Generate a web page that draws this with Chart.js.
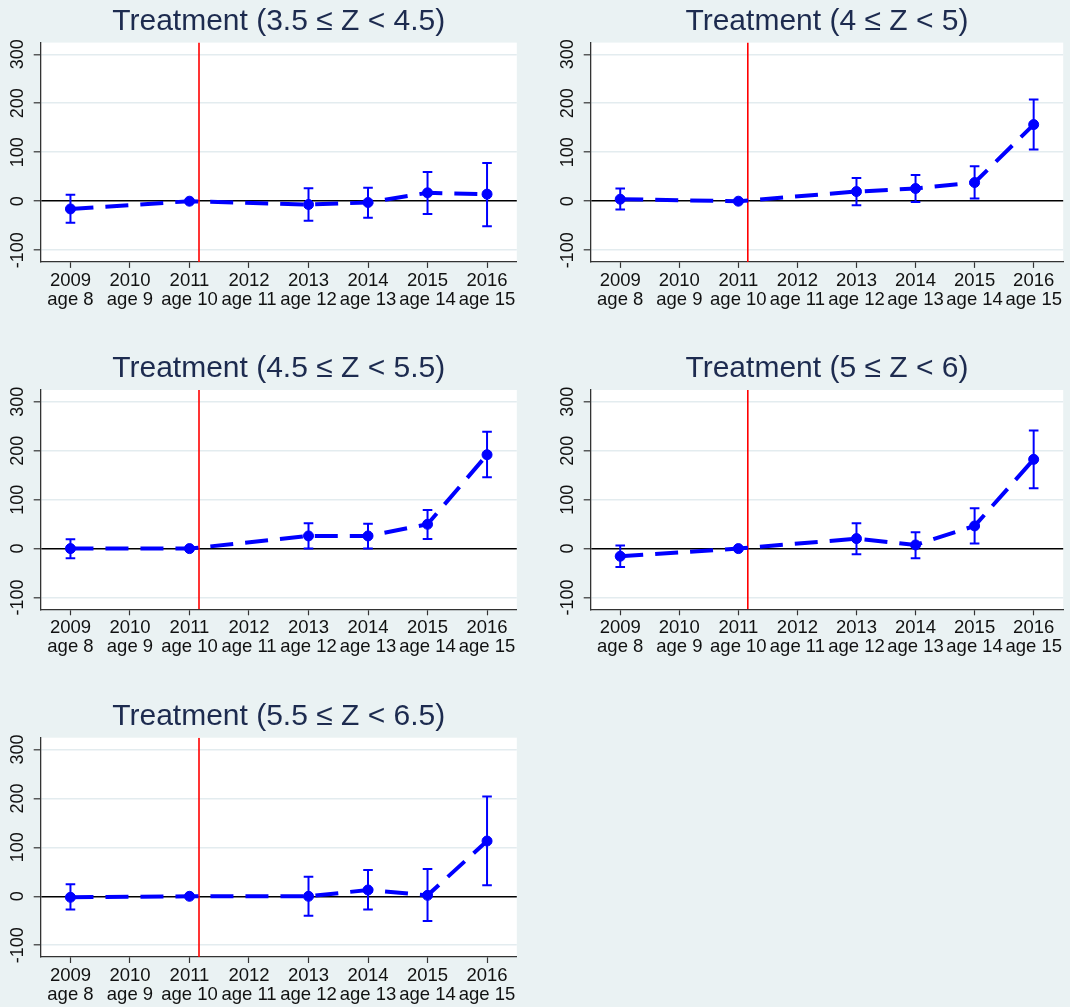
<!DOCTYPE html>
<html>
<head>
<meta charset="utf-8">
<script src="https://cdn.jsdelivr.net/npm/chart.js@4.4.1/dist/chart.umd.min.js"></script>
<style>
  html, body { margin: 0; padding: 0; background: #eaf2f3; }
  body { width: 1070px; height: 1007px; position: relative; overflow: hidden; }
  canvas { position: absolute; }
</style>
</head>
<body>
<canvas id="p1"></canvas>
<canvas id="p2"></canvas>
<canvas id="p3"></canvas>
<canvas id="p4"></canvas>
<canvas id="p5"></canvas>
<script>
// Survey years and matching ages on the x axis
const years = [2009, 2010, 2011, 2012, 2013, 2014, 2015, 2016];
const yearLabels = ['2009', '2010', '2011', '2012', '2013', '2014', '2015', '2016'];
const ageLabels = ['age 8', 'age 9', 'age 10', 'age 11', 'age 12', 'age 13', 'age 14', 'age 15'];
const yTickValues = [-100, 0, 100, 200, 300];
const yTickLabels = ['-100', '0', '100', '200', '300'];
const policyYear = 2011.16;

const titles = [
  'Treatment (3.5 \u2264 Z < 4.5)',
  'Treatment (4 \u2264 Z < 5)',
  'Treatment (4.5 \u2264 Z < 5.5)',
  'Treatment (5 \u2264 Z < 6)',
  'Treatment (5.5 \u2264 Z < 6.5)'
];

// Point estimates with 95% confidence bounds (2011 is the reference year)
const est1 = [-15.8, null, 0, null, -6.8, -2.7, 17.1, 14.4];
const lo1  = [-43.8, null, null, null, -39.7, -33.6, -26.0, -51.4];
const hi1  = [13.0, null, null, null, 26.7, 27.4, 59.6, 78.0];

const est2 = [4.1, null, 0, null, 19.7, 25.9, 38.1, 156.5];
const lo2  = [-17.0, null, null, null, -8.2, -1.4, 5.4, 105.4];
const hi2  = [25.9, null, null, null, 47.6, 53.7, 71.4, 208.0];

const est3 = [0, null, 0, null, 25.9, 25.9, 49.7, 191.8];
const lo3  = [-19.7, null, null, null, 0, 0, 19.7, 145.6];
const hi3  = [19.0, null, null, null, 51.7, 51.0, 78.9, 238.8];

const est4 = [-15.6, null, 0, null, 20.4, 7.5, 46.3, 182.3];
const lo4  = [-37.4, null, null, null, -11.6, -19.7, 10.2, 123.1];
const hi4  = [6.1, null, null, null, 51.7, 33.3, 82.3, 241.5];

const est5 = [-2.0, null, 0, null, 0, 12.9, 2.0, 112.9];
const lo5  = [-27.2, null, null, null, -39.5, -27.2, -50.3, 22.4];
const hi5  = [24.5, null, null, null, 40.1, 53.7, 55.8, 204.0];

const FONT = "'Liberation Sans', Arial, Helvetica, sans-serif";
const BLUE = '#0000ff';
const PLOT_H = 219.3;
const TITLE_SIZE = 30;
const TITLE_LINE = TITLE_SIZE * 1.2;

const plotBackground = {
  id: 'plotBackground',
  beforeDraw(chart) {
    const { ctx, chartArea: a } = chart;
    ctx.save();
    ctx.fillStyle = '#ffffff';
    ctx.fillRect(a.left, a.top, a.right - a.left, a.bottom - a.top);
    ctx.restore();
  }
};

function buildPanel(cfg) {
  const canvas = document.getElementById(cfg.id);
  canvas.width = cfg.w;
  canvas.height = cfg.h;
  canvas.style.left = cfg.left + 'px';
  canvas.style.top = cfg.top + 'px';
  canvas.style.width = cfg.w + 'px';
  canvas.style.height = cfg.h + 'px';

  const line = years.map((x, i) => ({ x: x, y: cfg.est[i] }));
  const bars = [];
  years.forEach((x, i) => {
    if (cfg.lo[i] !== null && cfg.hi[i] !== null) {
      bars.push({ x: x, y: cfg.lo[i] }, { x: x, y: cfg.hi[i] }, { x: x, y: null });
    }
  });
  const xAxisH = cfg.h - cfg.titleH - PLOT_H;

  new Chart(canvas, {
    type: 'line',
    data: {
      datasets: [
        {
          data: line,
          borderColor: BLUE,
          backgroundColor: BLUE,
          borderWidth: 4,
          borderDash: [23, 12],
          borderCapStyle: 'butt',
          spanGaps: true,
          tension: 0,
          pointRadius: 5,
          pointBorderWidth: 1,
          pointBackgroundColor: BLUE,
          pointBorderColor: BLUE,
          fill: false
        },
        {
          data: bars,
          borderColor: BLUE,
          borderWidth: 2,
          spanGaps: false,
          pointStyle: 'line',
          pointRadius: 4.8,
          pointBorderWidth: 2,
          pointBorderColor: BLUE,
          fill: false
        },
        {
          data: [{ x: policyYear, y: -124 }, { x: policyYear, y: 324 }],
          borderColor: '#ff0000',
          borderWidth: 1.6,
          pointRadius: 0,
          fill: false
        }
      ]
    },
    options: {
      responsive: false,
      animation: false,
      devicePixelRatio: 1,
      events: [],
      layout: { padding: { left: 0, right: cfg.padR, top: 0, bottom: 0 } },
      plugins: {
        legend: { display: false },
        tooltip: { enabled: false },
        title: {
          display: true,
          fullSize: false,
          text: cfg.title,
          color: '#1d2b4f',
          font: { family: FONT, size: TITLE_SIZE, weight: 'normal', lineHeight: 1.2 },
          padding: { top: 4, bottom: cfg.titleH - 4 - TITLE_LINE }
        }
      },
      scales: {
        x: {
          type: 'linear',
          min: 2008.5,
          max: 2016.5,
          afterBuildTicks: s => { s.ticks = years.map(v => ({ value: v })); },
          afterFit: s => { s.height = xAxisH; },
          grid: { display: true, drawOnChartArea: false, drawTicks: true, tickLength: 6, tickColor: '#333', tickWidth: 1.2 },
          border: { display: true, color: '#333', width: 1.3 },
          ticks: {
            autoSkip: false, minRotation: 0, maxRotation: 0, padding: 3,
            color: '#111', font: { family: FONT, size: 18.5, lineHeight: 1.03 },
            callback: (v, i) => [yearLabels[i], ageLabels[i]]
          }
        },
        y: {
          type: 'linear',
          min: -124,
          max: 324,
          afterBuildTicks: s => { s.ticks = yTickValues.map(v => ({ value: v })); },
          afterFit: s => { s.width = cfg.axisW; },
          grid: {
            color: c => (c.tick && c.tick.value === 0) ? '#000000' : '#e3ecef',
            lineWidth: c => (c.tick && c.tick.value === 0) ? 1.5 : 1.6,
            tickColor: '#333', tickLength: 7, tickWidth: 1.2
          },
          border: { display: true, color: '#333', width: 1.3 },
          ticks: {
            autoSkip: false, minRotation: 90, maxRotation: 90, crossAlign: 'center', padding: -2.8,
            color: '#111', font: { family: FONT, size: 18, lineHeight: 1.15 },
            callback: (v, i) => yTickLabels[i]
          }
        }
      }
    },
    plugins: [plotBackground]
  });
}

const panelSpecs = [
  { id: 'p1', left: 0,   top: 0,   w: 535, h: 347, titleH: 42.6, axisW: 40.7, padR: 18.2, title: titles[0], est: est1, lo: lo1, hi: hi1 },
  { id: 'p2', left: 535, top: 0,   w: 535, h: 347, titleH: 42.6, axisW: 55.7, padR: 6,    title: titles[1], est: est2, lo: lo2, hi: hi2 },
  { id: 'p3', left: 0,   top: 347, w: 535, h: 347, titleH: 43.0, axisW: 40.7, padR: 18.2, title: titles[2], est: est3, lo: lo3, hi: hi3 },
  { id: 'p4', left: 535, top: 347, w: 535, h: 347, titleH: 43.0, axisW: 55.7, padR: 6,    title: titles[3], est: est4, lo: lo4, hi: hi4 },
  { id: 'p5', left: 0,   top: 695, w: 535, h: 312, titleH: 42.7, axisW: 40.7, padR: 18.2, title: titles[4], est: est5, lo: lo5, hi: hi5 }
];
panelSpecs.forEach(buildPanel);
</script>
</body>
</html>
